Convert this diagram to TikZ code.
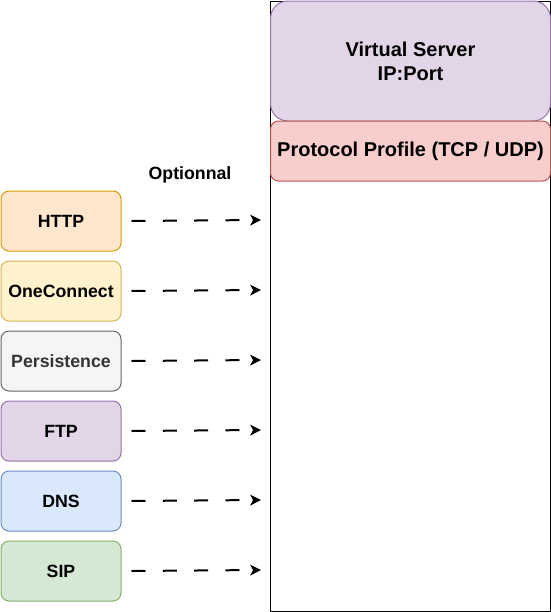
\documentclass[tikz,border=0pt]{standalone}
\usepackage{fontspec}
\setmainfont{Liberation Sans}
\usetikzlibrary{arrows.meta}
\definecolor{vsfill}{HTML}{E1D5E7}\definecolor{vsdraw}{HTML}{9673A6}
\definecolor{ppfill}{HTML}{F8CECC}\definecolor{ppdraw}{HTML}{B85450}
\definecolor{httpfill}{HTML}{FFE6CC}\definecolor{httpdraw}{HTML}{D79B00}
\definecolor{ocfill}{HTML}{FFF2CC}\definecolor{ocdraw}{HTML}{D6B656}
\definecolor{pefill}{HTML}{F5F5F5}\definecolor{pedraw}{HTML}{666666}\definecolor{petext}{HTML}{333333}
\definecolor{dnsfill}{HTML}{DAE8FC}\definecolor{dnsdraw}{HTML}{6C8EBF}
\definecolor{sipfill}{HTML}{D5E8D4}\definecolor{sipdraw}{HTML}{82B366}
\begin{document}
\begin{tikzpicture}[x=0.75pt,y=-0.75pt,
  optbox/.style={draw, line width=0.75pt, rounded corners=6pt, minimum width=90pt, minimum height=45pt,
    inner sep=0pt, font=\fontsize{13.3pt}{15pt}\selectfont\bfseries, anchor=north west},
  optarrow/.style={line width=1.5pt, dash pattern=on 10.5pt off 13pt, -{Stealth[length=8pt,width=8pt,inset=2pt]}}
]
\useasboundingbox (0,0) rectangle (551,612);
\node[draw, line width=0.75pt, minimum width=210pt, minimum height=457.5pt, inner sep=0pt, anchor=north west] (outer) at (270,0.5) {};
\node[draw=vsdraw, fill=vsfill, line width=0.75pt, rounded corners=13pt, minimum width=210pt, minimum height=90pt, inner sep=0pt, anchor=north west,
  align=center, font=\fontsize{15pt}{18pt}\selectfont\bfseries] (vs) at (270,0.5) {Virtual Server\\IP:Port};
\node[draw=ppdraw, fill=ppfill, line width=0.75pt, rounded corners=6pt, minimum width=210pt, minimum height=45pt, inner sep=0pt, anchor=north west,
  font=\fontsize{15pt}{18pt}\selectfont\bfseries] (pp) at (270,120.5) {Protocol Profile (TCP / UDP)};
\node[font=\fontsize{13.3pt}{15pt}\selectfont\bfseries] (opt) at (190,175) {Optionnal};
\node[optbox, draw=httpdraw, fill=httpfill] (http) at (0.5,190.5) {HTTP};
\node[optbox, draw=ocdraw, fill=ocfill] (oc) at (0.5,260.5) {OneConnect};
\node[optbox, draw=pedraw, fill=pefill, text=petext] (pe) at (0.5,330.5) {Persistence};
\node[optbox, draw=vsdraw, fill=vsfill] (ftp) at (0.5,400.5) {FTP};
\node[optbox, draw=dnsdraw, fill=dnsfill] (dns) at (0.5,470.5) {DNS};
\node[optbox, draw=sipdraw, fill=sipfill] (sip) at (0.5,540.5) {SIP};
\foreach \n/\y in {http/220, oc/290, pe/360, ftp/430, dns/500, sip/570}{
  \coordinate (\n-end) at (261,\y);
  \draw[optarrow] ([xshift=7.5pt]\n.east) -- (\n-end);
}
\end{tikzpicture}
\end{document}
